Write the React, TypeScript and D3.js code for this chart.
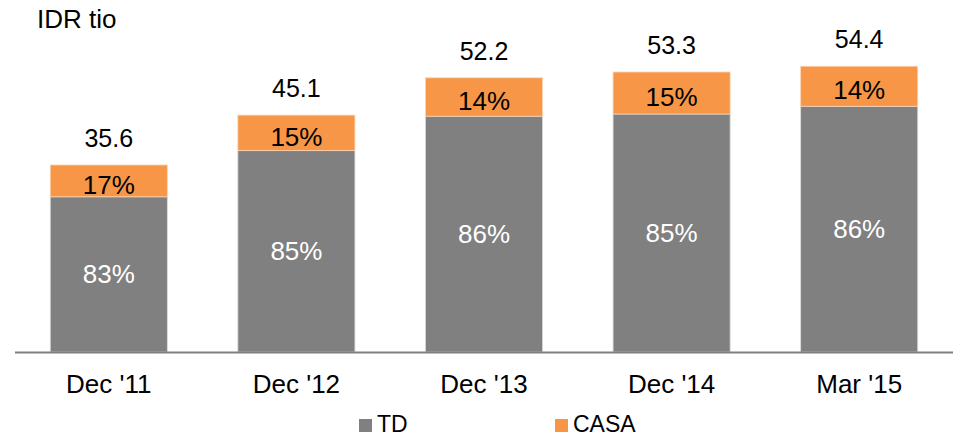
import React from 'react';
import * as d3 from 'd3';

const categories = ["Dec '11", "Dec '12", "Dec '13", "Dec '14", "Mar '15"];
const totals = [35.6, 45.1, 52.2, 53.3, 54.4];
const tdShare = [83, 85, 86, 85, 86];
const casaShare = [17, 15, 14, 15, 14];
const legendItems = ['TD', 'CASA'];

const W = 955;
const H = 439;
const FONT = 'Liberation Sans, Arial, sans-serif';
const GRAY = '#808080';
const ORANGE = '#F79646';

export default function App() {
  const baseline = 352;
  const x = d3.scaleBand<string>().domain(categories).range([15, 953]).paddingInner(0.376).paddingOuter(0.188);
  const y = d3.scaleLinear().domain([0, 35.6]).range([baseline, 165]);

  const rows = categories.map((c, i) => {
    const td = (totals[i] * tdShare[i]) / 100;
    return { c, total: totals[i], td, tdPct: tdShare[i], casaPct: casaShare[i] };
  });

  const legendX = d3.scalePoint<string>().domain(legendItems).range([359, 555]);

  return (
    <div style={{ position: 'absolute', left: 0, top: 0 }}>
      <svg width={W} height={H} style={{ display: 'block', fontFamily: FONT }}>
        <rect width={W} height={H} fill="#fff" />
        <text x={37} y={28} fontSize={26} fill="#000">IDR tio</text>
        {rows.map((r) => {
          const x0 = x(r.c)!;
          const bw = x.bandwidth();
          const cx = x0 + bw / 2;
          const yTd = y(r.td);
          const yTop = y(r.total);
          return (
            <g key={r.c}>
              <rect x={x0} y={yTd} width={bw} height={baseline - yTd} fill={GRAY} stroke="#d9d9d9" strokeWidth={0.8} />
              <rect x={x0} y={yTop} width={bw} height={yTd - yTop} fill={ORANGE} stroke="#fbd3b3" strokeWidth={0.8} />
              <text x={cx} y={(yTd + baseline) / 2 + 9} textAnchor="middle" fontSize={26} fill="#fff">{r.tdPct}%</text>
              <text x={cx} y={(yTop + yTd) / 2 + 13} textAnchor="middle" fontSize={26} fill="#000">{r.casaPct}%</text>
              <text x={cx} y={yTop - 18} textAnchor="middle" fontSize={25} fill="#000">{r.total.toFixed(1)}</text>
              <text x={cx} y={393} textAnchor="middle" fontSize={26} fill="#000">{r.c}</text>
            </g>
          );
        })}
        <line x1={15} x2={953} y1={baseline + 0.5} y2={baseline + 0.5} stroke={GRAY} strokeWidth={2} />
        {legendItems.map((k, i) => (
          <g key={k} transform={`translate(${legendX(k)},419)`}>
            <rect width={13} height={13} fill={i === 0 ? GRAY : ORANGE} />
            <text x={18} y={13} fontSize={23} fill="#000">{k}</text>
          </g>
        ))}
      </svg>
    </div>
  );
}
